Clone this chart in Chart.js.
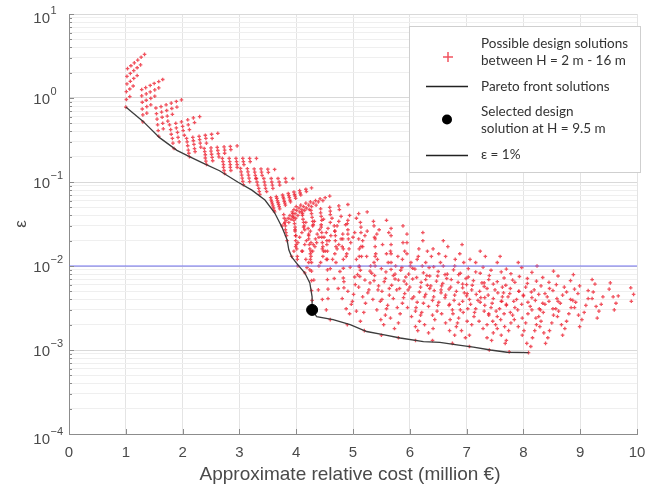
<!DOCTYPE html>
<html>
<head>
<meta charset="utf-8">
<title>Design solutions – cost vs ε</title>
<script src="https://cdn.jsdelivr.net/npm/chart.js@4.4.1/dist/chart.umd.min.js"></script>
<style>
  html, body { margin: 0; padding: 0; background: #fff; }
  #wrap { width: 658px; height: 489px; }
</style>
</head>
<body>
<div id="wrap"><canvas id="chart" width="658" height="489"></canvas></div>
<script>
// design heights H (m), one group of solutions per height
const designHeights = [2, 2.5, 3, 3.5, 4, 4.5, 5, 5.5, 6, 6.5, 7, 7.5, 8, 8.5, 9, 9.5,
  10, 10.5, 11, 11.5, 12, 12.5, 13, 13.5, 14, 14.5, 15, 15.5];

// approximate relative cost (million €) of each solution, per height
const solutionCost = [
  [1.00,1.01,1.01,1.02,1.02,1.03,1.07,1.07,1.08,1.08,1.09,1.13,1.14,1.14,1.15,1.20,1.20,1.21,1.26,1.27,1.33],
  [1.30,1.30,1.29,1.29,1.28,1.28,1.37,1.37,1.36,1.36,1.35,1.44,1.44,1.43,1.43,1.51,1.51,1.50,1.58,1.58,1.65],
  [1.58,1.57,1.56,1.55,1.54,1.53,1.66,1.65,1.64,1.63,1.62,1.74,1.73,1.72,1.71,1.82,1.81,1.80,1.90,1.89,1.98],
  [1.85,1.83,1.82,1.80,1.79,1.77,1.94,1.92,1.91,1.89,1.88,2.03,2.01,2.00,1.98,2.12,2.10,2.09,2.21,2.19,2.30],
  [2.12,2.11,2.10,2.09,2.08,2.07,2.22,2.21,2.20,2.19,2.18,2.32,2.31,2.30,2.29,2.42,2.41,2.40,2.52,2.51,2.62],
  [2.42,2.41,2.40,2.40,2.39,2.38,2.53,2.52,2.51,2.50,2.50,2.64,2.63,2.62,2.61,2.74,2.74,2.73,2.85,2.84,2.96],
  [2.74,2.73,2.72,2.72,2.71,2.70,2.85,2.84,2.84,2.83,2.82,2.96,2.96,2.95,2.94,3.08,3.07,3.06,3.19,3.18,3.30],
  [3.07,3.06,3.05,3.04,3.03,3.02,3.18,3.17,3.16,3.15,3.14,3.29,3.28,3.27,3.26,3.40,3.39,3.38,3.51,3.50,3.62],
  [3.36,3.35,3.34,3.32,3.31,3.30,3.48,3.46,3.45,3.44,3.43,3.59,3.58,3.57,3.56,3.71,3.70,3.68,3.82,3.81,3.94],
  [3.62,3.61,3.60,3.59,3.58,3.57,3.56,3.55,3.71,3.70,3.69,3.68,3.67,3.66,3.65,3.81,3.80,3.79,3.78,3.77,3.76,3.90,3.89,3.88,3.87,3.86,3.99,3.98,3.97,3.96,4.08,4.07,4.06,4.18,4.17,4.27],
  [3.75,3.79,3.82,3.86,3.89,3.93,3.96,4.00,3.87,3.91,3.94,3.98,4.01,4.05,4.08,3.99,4.03,4.06,4.10,4.13,4.17,4.11,4.15,4.18,4.22,4.25,4.23,4.27,4.30,4.34,4.35,4.39,4.42,4.47,4.51,4.59],
  [3.84,3.83,3.82,3.81,3.81,3.80,3.79,3.78,3.99,3.98,3.98,3.97,3.96,3.95,3.94,4.15,4.14,4.13,4.12,4.11,4.10,4.30,4.29,4.28,4.27,4.26,4.45,4.44,4.43,4.43,4.60,4.60,4.59,4.76,4.75,4.91],
  [3.92,3.96,3.99,4.03,4.06,4.10,4.13,4.17,4.11,4.15,4.18,4.22,4.25,4.29,4.32,4.30,4.34,4.37,4.41,4.44,4.48,4.49,4.53,4.56,4.60,4.63,4.68,4.72,4.75,4.79,4.87,4.91,4.94,5.06,5.10,5.25],
  [4.03,4.02,4.02,4.01,4.00,3.99,3.99,3.98,4.25,4.25,4.24,4.23,4.22,4.22,4.21,4.48,4.47,4.46,4.45,4.45,4.44,4.70,4.69,4.69,4.68,4.67,4.92,4.91,4.91,4.90,5.14,5.14,5.13,5.37,5.36,5.59],
  [4.15,4.19,4.22,4.26,4.29,4.33,4.36,4.40,4.40,4.43,4.47,4.51,4.54,4.58,4.61,4.64,4.68,4.72,4.75,4.79,4.82,4.89,4.93,4.96,5.00,5.03,5.14,5.17,5.21,5.25,5.39,5.42,5.46,5.63,5.67,5.88],
  [4.28,4.28,4.27,4.27,4.27,4.27,4.26,4.26,4.56,4.56,4.55,4.55,4.55,4.55,4.54,4.84,4.83,4.83,4.83,4.83,4.82,5.12,5.11,5.11,5.11,5.10,5.39,5.39,5.39,5.38,5.67,5.67,5.67,5.95,5.95,6.23],
  [4.60,4.53,4.46,4.39,4.31,4.24,4.17,4.10,4.88,4.81,4.74,4.67,4.60,4.53,4.46,5.17,5.10,5.03,4.95,4.88,4.81,5.45,5.38,5.31,5.24,5.17,5.74,5.67,5.59,5.52,6.02,5.95,5.88,6.31,6.23,6.59],
  [4.90,4.94,4.97,5.01,5.04,5.08,5.11,5.15,5.19,5.22,5.26,5.30,5.33,5.37,5.40,5.48,5.51,5.55,5.58,5.62,5.66,5.77,5.80,5.84,5.87,5.91,6.05,6.09,6.13,6.16,6.34,6.38,6.41,6.63,6.67,6.92],
  [5.20,5.13,5.06,4.99,4.91,4.84,4.77,4.70,5.49,5.42,5.35,5.28,5.21,5.13,5.06,5.78,5.71,5.64,5.57,5.50,5.43,6.07,6.00,5.93,5.86,5.79,6.37,6.30,6.22,6.15,6.66,6.59,6.51,6.95,6.88,7.24],
  [5.50,5.54,5.57,5.61,5.64,5.68,5.71,5.75,5.80,5.83,5.87,5.91,5.94,5.98,6.01,6.10,6.13,6.17,6.20,6.24,6.28,6.40,6.43,6.47,6.50,6.54,6.69,6.73,6.77,6.80,6.99,7.03,7.06,7.29,7.33,7.59],
  [5.80,5.73,5.66,5.59,5.51,5.44,5.37,5.30,6.10,6.03,5.96,5.89,5.82,5.74,5.67,6.40,6.33,6.26,6.19,6.12,6.05,6.70,6.63,6.56,6.49,6.42,7.01,6.93,6.86,6.79,7.31,7.24,7.16,7.61,7.54,7.91],
  [6.10,6.14,6.17,6.21,6.24,6.28,6.31,6.35,6.41,6.44,6.48,6.51,6.55,6.58,6.62,6.71,6.75,6.78,6.82,6.85,6.89,7.02,7.05,7.09,7.12,7.16,7.32,7.36,7.39,7.43,7.63,7.66,7.70,7.93,7.97,8.24],
  [6.40,6.33,6.26,6.19,6.11,6.04,5.97,5.90,6.70,6.63,6.56,6.49,6.42,6.35,6.28,7.01,6.94,6.87,6.79,6.72,6.65,7.31,7.24,7.17,7.10,7.03,7.62,7.55,7.47,7.40,7.92,7.85,7.78,8.23,8.15,8.53],
  [6.75,6.79,6.82,6.86,6.89,6.93,6.96,7.00,7.05,7.09,7.13,7.16,7.20,7.23,7.27,7.36,7.39,7.43,7.47,7.50,7.54,7.66,7.70,7.73,7.77,7.81,7.97,8.00,8.04,8.07,8.27,8.31,8.34,8.58,8.61,8.88],
  [7.05,6.98,6.91,6.84,6.76,6.69,6.62,6.55,7.36,7.29,7.22,7.14,7.07,7.00,6.93,7.67,7.60,7.52,7.45,7.38,7.31,7.98,7.90,7.83,7.76,7.69,8.28,8.21,8.14,8.07,8.59,8.52,8.45,8.90,8.83,9.21],
  [7.40,7.44,7.47,7.51,7.54,7.58,7.61,7.65,7.70,7.74,7.78,7.81,7.85,7.88,7.92,8.01,8.04,8.08,8.12,8.15,8.19,8.31,8.35,8.38,8.42,8.46,8.62,8.65,8.69,8.72,8.92,8.96,8.99,9.23,9.26,9.53],
  [7.75,7.68,7.61,7.54,7.46,7.39,7.32,7.25,8.06,7.98,7.91,7.84,7.77,7.70,7.63,8.36,8.29,8.22,8.15,8.08,8.00,8.67,8.60,8.52,8.45,8.38,8.97,8.90,8.83,8.76,9.28,9.21,9.14,9.58,9.51,9.89],
  [8.09,8.13,8.16,8.20,8.23,8.27,8.30,8.34,8.39,8.43,8.46,8.50,8.53,8.57,8.61,8.69,8.73,8.76,8.80,8.84,8.87,8.99,9.03,9.07,9.10,9.14,9.30,9.33,9.37,9.40,9.60,9.63,9.67,9.90,9.94,10.2]
];

// ε of each solution, same layout as solutionCost
const solutionEps = [
  [0.78,0.96,1.19,1.47,1.81,2.24,1.04,1.28,1.58,1.96,2.42,1.39,1.71,2.12,2.62,1.85,2.29,2.83,2.48,3.06,3.31],
  [0.52,0.63,0.74,0.89,1.06,1.26,0.66,0.79,0.94,1.12,1.33,0.83,0.99,1.18,1.41,1.05,1.25,1.49,1.32,1.57,1.66],
  [0.35,0.41,0.48,0.56,0.65,0.76,0.43,0.50,0.59,0.68,0.79,0.53,0.61,0.71,0.83,0.64,0.75,0.87,0.78,0.91,0.95],
  [0.25,0.29,0.33,0.37,0.42,0.48,0.30,0.34,0.39,0.44,0.50,0.36,0.41,0.46,0.52,0.42,0.48,0.55,0.51,0.58,0.60],
  [0.20,0.22,0.24,0.27,0.30,0.33,0.23,0.25,0.28,0.31,0.34,0.26,0.29,0.32,0.35,0.29,0.33,0.36,0.33,0.37,0.38],
  [0.162,0.177,0.193,0.211,0.230,0.251,0.179,0.196,0.214,0.233,0.255,0.199,0.217,0.237,0.258,0.220,0.240,0.262,0.243,0.265,0.269],
  [0.126,0.137,0.149,0.161,0.175,0.191,0.137,0.149,0.161,0.175,0.191,0.149,0.161,0.175,0.191,0.161,0.175,0.191,0.175,0.191,0.191],
  [0.093,0.102,0.111,0.121,0.132,0.145,0.101,0.111,0.121,0.132,0.144,0.110,0.120,0.131,0.143,0.120,0.131,0.143,0.130,0.142,0.141],
  [0.071,0.077,0.084,0.092,0.100,0.110,0.077,0.084,0.092,0.100,0.110,0.084,0.092,0.100,0.110,0.092,0.100,0.110,0.100,0.110,0.110],
  [0.044,0.046,0.049,0.052,0.055,0.058,0.061,0.065,0.048,0.051,0.054,0.057,0.060,0.064,0.067,0.053,0.056,0.059,0.063,0.066,0.070,0.058,0.061,0.065,0.069,0.073,0.064,0.068,0.071,0.076,0.070,0.074,0.079,0.077,0.082,0.085],
  [0.030,0.032,0.035,0.037,0.040,0.044,0.047,0.051,0.033,0.036,0.039,0.042,0.046,0.049,0.053,0.037,0.040,0.044,0.047,0.051,0.056,0.042,0.046,0.049,0.053,0.058,0.047,0.051,0.056,0.060,0.053,0.058,0.063,0.060,0.065,0.068],
  [0.020,0.023,0.025,0.027,0.030,0.033,0.037,0.041,0.023,0.026,0.029,0.032,0.035,0.038,0.042,0.027,0.030,0.033,0.036,0.040,0.044,0.031,0.034,0.038,0.042,0.046,0.035,0.039,0.043,0.048,0.041,0.045,0.050,0.047,0.052,0.054],
  [0.013,0.015,0.017,0.019,0.022,0.025,0.029,0.033,0.015,0.018,0.020,0.023,0.026,0.030,0.034,0.018,0.021,0.024,0.027,0.031,0.036,0.022,0.025,0.028,0.033,0.037,0.026,0.030,0.034,0.039,0.031,0.035,0.040,0.037,0.042,0.044],
  [0.010,0.012,0.013,0.016,0.018,0.020,0.023,0.027,0.012,0.014,0.016,0.018,0.021,0.024,0.028,0.015,0.017,0.019,0.022,0.025,0.029,0.017,0.020,0.023,0.026,0.030,0.021,0.024,0.027,0.032,0.025,0.029,0.033,0.030,0.034,0.035],
  [0.0083,0.0096,0.011,0.013,0.015,0.017,0.019,0.022,0.010,0.011,0.013,0.015,0.018,0.020,0.023,0.012,0.014,0.016,0.018,0.021,0.024,0.014,0.016,0.019,0.022,0.025,0.017,0.020,0.023,0.026,0.021,0.024,0.027,0.025,0.028,0.030],
  [0.0030,0.0039,0.0051,0.0067,0.0087,0.011,0.015,0.019,0.0041,0.0053,0.0069,0.0090,0.012,0.015,0.020,0.0055,0.0072,0.0094,0.012,0.016,0.021,0.0075,0.0098,0.013,0.016,0.021,0.010,0.013,0.017,0.022,0.014,0.018,0.023,0.019,0.024,0.025],
  [0.0023,0.0030,0.0040,0.0052,0.0068,0.0090,0.012,0.015,0.0031,0.0041,0.0054,0.0071,0.0093,0.012,0.016,0.0043,0.0056,0.0074,0.0097,0.013,0.017,0.0058,0.0077,0.010,0.013,0.017,0.0080,0.011,0.014,0.018,0.011,0.014,0.019,0.015,0.020,0.020],
  [0.0020,0.0027,0.0035,0.0046,0.0060,0.0079,0.010,0.013,0.0028,0.0036,0.0048,0.0063,0.0082,0.011,0.014,0.0038,0.0050,0.0065,0.0085,0.011,0.015,0.0052,0.0068,0.0089,0.012,0.015,0.0070,0.0092,0.012,0.016,0.0096,0.013,0.016,0.013,0.017,0.018],
  [0.0017,0.0022,0.0029,0.0038,0.0050,0.0065,0.0086,0.011,0.0023,0.0030,0.0040,0.0052,0.0068,0.0089,0.012,0.0032,0.0041,0.0054,0.0071,0.0093,0.012,0.0043,0.0056,0.0074,0.0096,0.013,0.0058,0.0077,0.010,0.013,0.0080,0.010,0.014,0.011,0.014,0.015],
  [0.0015,0.0020,0.0026,0.0034,0.0045,0.0059,0.0077,0.010,0.0021,0.0027,0.0036,0.0047,0.0061,0.0080,0.010,0.0029,0.0037,0.0049,0.0064,0.0083,0.011,0.0039,0.0051,0.0066,0.0086,0.011,0.0053,0.0069,0.0090,0.012,0.0071,0.0093,0.012,0.0097,0.013,0.013],
  [0.0014,0.0018,0.0024,0.0031,0.0040,0.0052,0.0067,0.0087,0.0019,0.0025,0.0032,0.0042,0.0054,0.0070,0.0091,0.0026,0.0033,0.0043,0.0056,0.0073,0.0094,0.0035,0.0045,0.0058,0.0076,0.0098,0.0047,0.0061,0.0079,0.010,0.0063,0.0082,0.011,0.0085,0.011,0.011],
  [0.0013,0.0017,0.0022,0.0028,0.0036,0.0046,0.0059,0.0076,0.0018,0.0023,0.0029,0.0037,0.0048,0.0062,0.0079,0.0023,0.0030,0.0039,0.0050,0.0064,0.0082,0.0031,0.0040,0.0052,0.0067,0.0085,0.0042,0.0054,0.0069,0.0089,0.0056,0.0072,0.0092,0.0075,0.0096,0.010],
  [0.0013,0.0016,0.0020,0.0026,0.0032,0.0041,0.0052,0.0066,0.0017,0.0021,0.0027,0.0034,0.0043,0.0054,0.0069,0.0022,0.0028,0.0035,0.0045,0.0056,0.0071,0.0029,0.0037,0.0046,0.0059,0.0074,0.0038,0.0048,0.0061,0.0077,0.0050,0.0064,0.0081,0.0066,0.0084,0.0087],
  [0.0012,0.0015,0.0019,0.0024,0.0030,0.0038,0.0048,0.0060,0.0015,0.0020,0.0025,0.0031,0.0039,0.0050,0.0063,0.0020,0.0026,0.0032,0.0041,0.0052,0.0065,0.0027,0.0034,0.0043,0.0054,0.0068,0.0035,0.0044,0.0056,0.0071,0.0046,0.0058,0.0073,0.0060,0.0076,0.0079],
  [0.0011,0.0014,0.0017,0.0021,0.0027,0.0034,0.0042,0.0052,0.0014,0.0018,0.0022,0.0028,0.0035,0.0044,0.0055,0.0019,0.0023,0.0029,0.0036,0.0045,0.0057,0.0024,0.0030,0.0038,0.0047,0.0059,0.0031,0.0039,0.0049,0.0062,0.0041,0.0051,0.0064,0.0053,0.0067,0.0069],
  [0.0010,0.0013,0.0016,0.0020,0.0025,0.0031,0.0038,0.0048,0.0013,0.0017,0.0021,0.0026,0.0032,0.0040,0.0050,0.0017,0.0021,0.0027,0.0033,0.0042,0.0052,0.0022,0.0028,0.0035,0.0043,0.0054,0.0029,0.0036,0.0045,0.0056,0.0037,0.0047,0.0058,0.0049,0.0061,0.0063],
  [0.00095,0.0012,0.0015,0.0018,0.0022,0.0027,0.0034,0.0042,0.0012,0.0015,0.0019,0.0023,0.0028,0.0035,0.0043,0.0016,0.0019,0.0024,0.0030,0.0037,0.0045,0.0020,0.0025,0.0031,0.0038,0.0047,0.0026,0.0032,0.0040,0.0049,0.0033,0.0041,0.0051,0.0043,0.0053,0.0055],
  [0.00093,0.0011,0.0014,0.0017,0.0020,0.0025,0.0030,0.0036,0.0012,0.0014,0.0017,0.0021,0.0026,0.0031,0.0038,0.0015,0.0018,0.0022,0.0027,0.0032,0.0039,0.0019,0.0023,0.0028,0.0034,0.0041,0.0024,0.0029,0.0035,0.0043,0.0030,0.0036,0.0044,0.0038,0.0046,0.0048]
];

// Pareto front
const paretoCost = [1.00,1.30,1.60,1.90,2.13,2.35,2.65,2.97,3.22,3.45,3.62,3.75,3.84,3.87,3.92,4.03,4.15,4.24,4.28,4.28,
  4.36,4.65,4.95,5.24,5.53,5.83,6.24,6.53,6.83,7.12,7.42,7.71,8.09];
const paretoEps = [0.78,0.53,0.335,0.238,0.199,0.169,0.136,0.100,0.080,0.061,0.043,0.029,0.0205,0.0156,0.0128,0.0103,0.0083,0.0063,0.0043,0.0030,
  0.0025,0.0023,0.0020,0.00166,0.00152,0.00139,0.00126,0.00123,0.00115,0.00108,0.00100,0.00094,0.00093];

// selected design (H = 9.5 m) and the 1 % limit
const selectedCost = 4.28;
const selectedEps = 0.0030;
const epsLimit = 0.01;

// axes
const xTicks = [0, 1, 2, 3, 4, 5, 6, 7, 8, 9, 10];
const yDecades = [-4, -3, -2, -1, 0, 1];

const axisFont = '"Liberation Sans", Arial, Helvetica, sans-serif';
const legendFont = 'Lato, "Open Sans", sans-serif';
const textColor = '#4a4a4a';
const axisColor = '#8c8c8c';
const red = 'rgba(238, 40, 55, 0.8)';

const yTickValues = [];
yDecades.slice(0, -1).forEach(e => {
  for (let m = 1; m <= 9; m++) yTickValues.push(m * Math.pow(10, e));
});
yTickValues.push(Math.pow(10, yDecades[yDecades.length - 1]));

function isDecade(v) {
  const l = Math.log10(v);
  return Math.abs(l - Math.round(l)) < 1e-6;
}

const solutionSets = designHeights.map((h, i) => ({
  label: 'H = ' + h + ' m',
  data: solutionCost[i].map((c, j) => ({ x: c, y: solutionEps[i][j] })),
  pointStyle: 'cross',
  pointRadius: 1.8,
  pointBorderWidth: 1.3,
  borderColor: red,
  backgroundColor: red,
  showLine: false,
  order: 3
}));

const datasets = [
  {
    label: 'Selected design solution at H = 9.5 m',
    data: [{ x: selectedCost, y: selectedEps }],
    pointRadius: 5.5,
    backgroundColor: '#000',
    borderColor: '#000',
    order: 0
  },
  {
    label: 'Pareto front solutions',
    data: paretoCost.map((c, i) => ({ x: c, y: paretoEps[i] })),
    showLine: true,
    pointRadius: 0,
    borderColor: '#3c3c3c',
    borderWidth: 1.3,
    order: 1
  },
  {
    label: 'ε = 1%',
    data: [{ x: xTicks[0], y: epsLimit }, { x: xTicks[xTicks.length - 1], y: epsLimit }],
    showLine: true,
    pointRadius: 0,
    borderColor: '#7474f2',
    borderWidth: 1.2,
    order: 2
  }
].concat(solutionSets);

function drawLegend(ctx) {
  const bx = 409.5, by = 26.5, bw = 231, bh = 146;
  ctx.fillStyle = '#fff';
  ctx.fillRect(bx, by, bw, bh);
  ctx.strokeStyle = '#cfcfcf';
  ctx.lineWidth = 1;
  ctx.strokeRect(bx, by, bw, bh);

  // markers
  ctx.strokeStyle = red;
  ctx.lineWidth = 1.5;
  ctx.beginPath();
  ctx.moveTo(443, 57); ctx.lineTo(453, 57);
  ctx.moveTo(448, 52); ctx.lineTo(448, 62);
  ctx.stroke();

  ctx.strokeStyle = '#222';
  ctx.lineWidth = 1.5;
  ctx.beginPath();
  ctx.moveTo(426, 86.5); ctx.lineTo(468, 86.5);
  ctx.moveTo(426, 155.5); ctx.lineTo(468, 155.5);
  ctx.stroke();

  ctx.fillStyle = '#000';
  ctx.beginPath();
  ctx.arc(447, 119.5, 5, 0, Math.PI * 2);
  ctx.fill();

  // labels
  ctx.fillStyle = '#333';
  ctx.font = '13.5px ' + legendFont;
  ctx.textAlign = 'left';
  ctx.textBaseline = 'middle';
  const lines = [
    ['Possible design solutions', 44],
    ['between H = 2 m - 16 m', 61],
    ['Pareto front solutions', 87],
    ['Selected design', 112],
    ['solution at H = 9.5 m', 129],
    ['ε = 1%', 155]
  ];
  lines.forEach(l => ctx.fillText(l[0], 481, l[1]));
}

const decorations = {
  id: 'decorations',
  afterDraw(chart) {
    const ctx = chart.ctx;
    const xs = chart.scales.x;
    const ys = chart.scales.y;
    const area = chart.chartArea;
    ctx.save();

    // tick marks point inward
    ctx.strokeStyle = axisColor;
    ctx.lineWidth = 1;
    ctx.beginPath();
    yTickValues.forEach(v => {
      const py = Math.round(ys.getPixelForValue(v)) + 0.5;
      const len = isDecade(v) ? 5 : 3;
      ctx.moveTo(area.left, py);
      ctx.lineTo(area.left + len, py);
    });
    xTicks.forEach(v => {
      const px = Math.round(xs.getPixelForValue(v)) + 0.5;
      ctx.moveTo(px, area.bottom);
      ctx.lineTo(px, area.bottom - 5);
    });
    ctx.stroke();

    // y labels as 10 with superscript exponent
    ctx.fillStyle = textColor;
    ctx.textBaseline = 'middle';
    yDecades.forEach((e, i) => {
      let py = ys.getPixelForValue(Math.pow(10, e)) + 2;
      if (i === 0) py += 4;
      if (i === yDecades.length - 1) py += 3;
      ctx.font = '15px ' + axisFont;
      ctx.textAlign = 'right';
      ctx.fillText('10', 50, py);
      ctx.font = '11px ' + axisFont;
      ctx.textAlign = 'left';
      ctx.fillText(String(e).replace('-', '\u2212'), 50.5, py - 8);
    });

    // axis titles
    ctx.font = '19px ' + axisFont;
    ctx.textAlign = 'center';
    ctx.fillText('Approximate relative cost (million €)', 350, 475);
    ctx.save();
    ctx.translate(21, 224);
    ctx.rotate(-Math.PI / 2);
    ctx.font = '17px ' + axisFont;
    ctx.fillText('ε', 0, 0);
    ctx.restore();

    drawLegend(ctx);
    ctx.restore();
  }
};

new Chart(document.getElementById('chart'), {
  type: 'scatter',
  data: { datasets: datasets },
  options: {
    responsive: false,
    animation: false,
    devicePixelRatio: 1,
    layout: { padding: { top: 14, right: 21, left: 0, bottom: 0 } },
    scales: {
      x: {
        type: 'linear',
        min: 0,
        max: 10,
        afterBuildTicks: scale => { scale.ticks = xTicks.map(v => ({ value: v })); },
        afterFit: scale => { scale.height = 55; },
        ticks: {
          color: textColor,
          font: { family: axisFont, size: 15 },
          padding: 10,
          maxRotation: 0
        },
        grid: { color: '#e4e4e4', drawTicks: false },
        border: { display: true, color: axisColor }
      },
      y: {
        type: 'logarithmic',
        min: 1e-4,
        max: 10,
        afterBuildTicks: scale => { scale.ticks = yTickValues.map(v => ({ value: v })); },
        afterFit: scale => { scale.width = 69; },
        ticks: { display: false },
        grid: {
          color: c => (c.tick && isDecade(c.tick.value)) ? '#d9d9d9' : '#efefef',
          drawTicks: false
        },
        border: { display: true, color: axisColor }
      }
    },
    plugins: {
      legend: { display: false },
      tooltip: { enabled: false }
    }
  },
  plugins: [decorations]
});
</script>
</body>
</html>
